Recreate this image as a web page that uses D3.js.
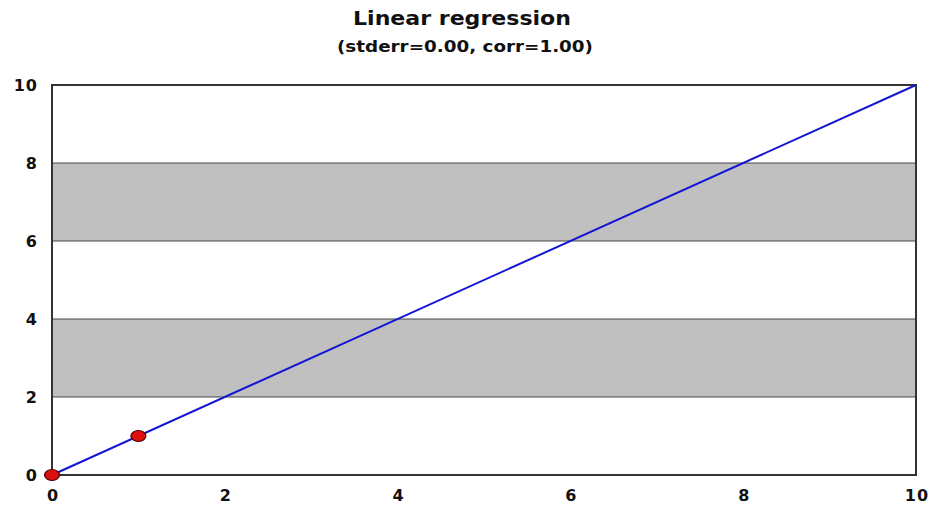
<!DOCTYPE html>
<html>
<head>
<meta charset="utf-8">
<script src="https://cdn.jsdelivr.net/npm/d3@7"></script>
<style>
  body { margin: 0; background: #fff; }
  text { font-family: "DejaVu Sans", sans-serif; font-weight: bold; fill: #111; }
</style>
</head>
<body>
<svg id="chart" width="936" height="507"></svg>
<script>
const pointsX = [0, 1]
const pointsY = [0, 1]
const lineX = [0, 10]
const lineY = [0, 10]
const bands = [[2, 4], [6, 8]]
const ticks = [0, 2, 4, 6, 8, 10]

const margin = {top: 85, right: 20, bottom: 32, left: 52}
const width = 936, height = 507

const svg = d3.select('#chart')

const x = d3.scaleLinear().domain([0, 10]).range([margin.left, width - margin.right])
const y = d3.scaleLinear().domain([0, 10]).range([height - margin.bottom, margin.top])

// grey bands
svg.append('g')
  .selectAll('rect')
  .data(bands)
  .join('rect')
    .attr('x', x(0))
    .attr('y', d => y(d[1]))
    .attr('width', x(10) - x(0))
    .attr('height', d => y(d[0]) - y(d[1]))
    .attr('fill', '#c0c0c0')
    .attr('stroke', '#444')
    .attr('stroke-width', 1)

// frame
svg.append('rect')
  .attr('x', x(0)).attr('y', y(10))
  .attr('width', x(10) - x(0)).attr('height', y(0) - y(10))
  .attr('fill', 'none').attr('stroke', '#333').attr('stroke-width', 2)

// axes labels
svg.append('g')
  .selectAll('text')
  .data(ticks)
  .join('text')
    .attr('x', 38)
    .attr('y', d => y(d))
    .attr('dy', '0.35em')
    .attr('text-anchor', 'end')
    .attr('font-size', 16)
    .attr('letter-spacing', 1)
    .text(d => d)

svg.append('g')
  .selectAll('text')
  .data(ticks)
  .join('text')
    .attr('x', d => x(d) + 1)
    .attr('y', 495)
    .attr('dy', '0.35em')
    .attr('text-anchor', 'middle')
    .attr('font-size', 16)
    .attr('letter-spacing', 1)
    .text(d => d)

// regression line
const line = d3.line().x(d => x(d[0])).y(d => y(d[1]))
svg.append('path')
  .datum(d3.zip(lineX, lineY))
  .attr('d', line)
  .attr('fill', 'none')
  .attr('stroke', '#1414d4')
  .attr('stroke-width', 2)

// points
svg.append('g')
  .selectAll('ellipse')
  .data(d3.zip(pointsX, pointsY))
  .join('ellipse')
    .attr('cx', d => x(d[0]))
    .attr('cy', d => y(d[1]))
    .attr('rx', 7.5)
    .attr('ry', 5.5)
    .attr('fill', '#dd1010')
    .attr('stroke', '#400')
    .attr('stroke-width', 1.2)

// title
svg.append('text')
  .attr('x', 462).attr('y', 25)
  .attr('text-anchor', 'middle')
  .attr('font-size', 19)
  .attr('textLength', 218)
  .attr('lengthAdjust', 'spacingAndGlyphs')
  .text('Linear regression')

svg.append('text')
  .attr('x', 465).attr('y', 52)
  .attr('text-anchor', 'middle')
  .attr('font-size', 15)
  .attr('textLength', 256)
  .attr('lengthAdjust', 'spacingAndGlyphs')
  .text('(stderr=0.00, corr=1.00)')
</script>
</body>
</html>
